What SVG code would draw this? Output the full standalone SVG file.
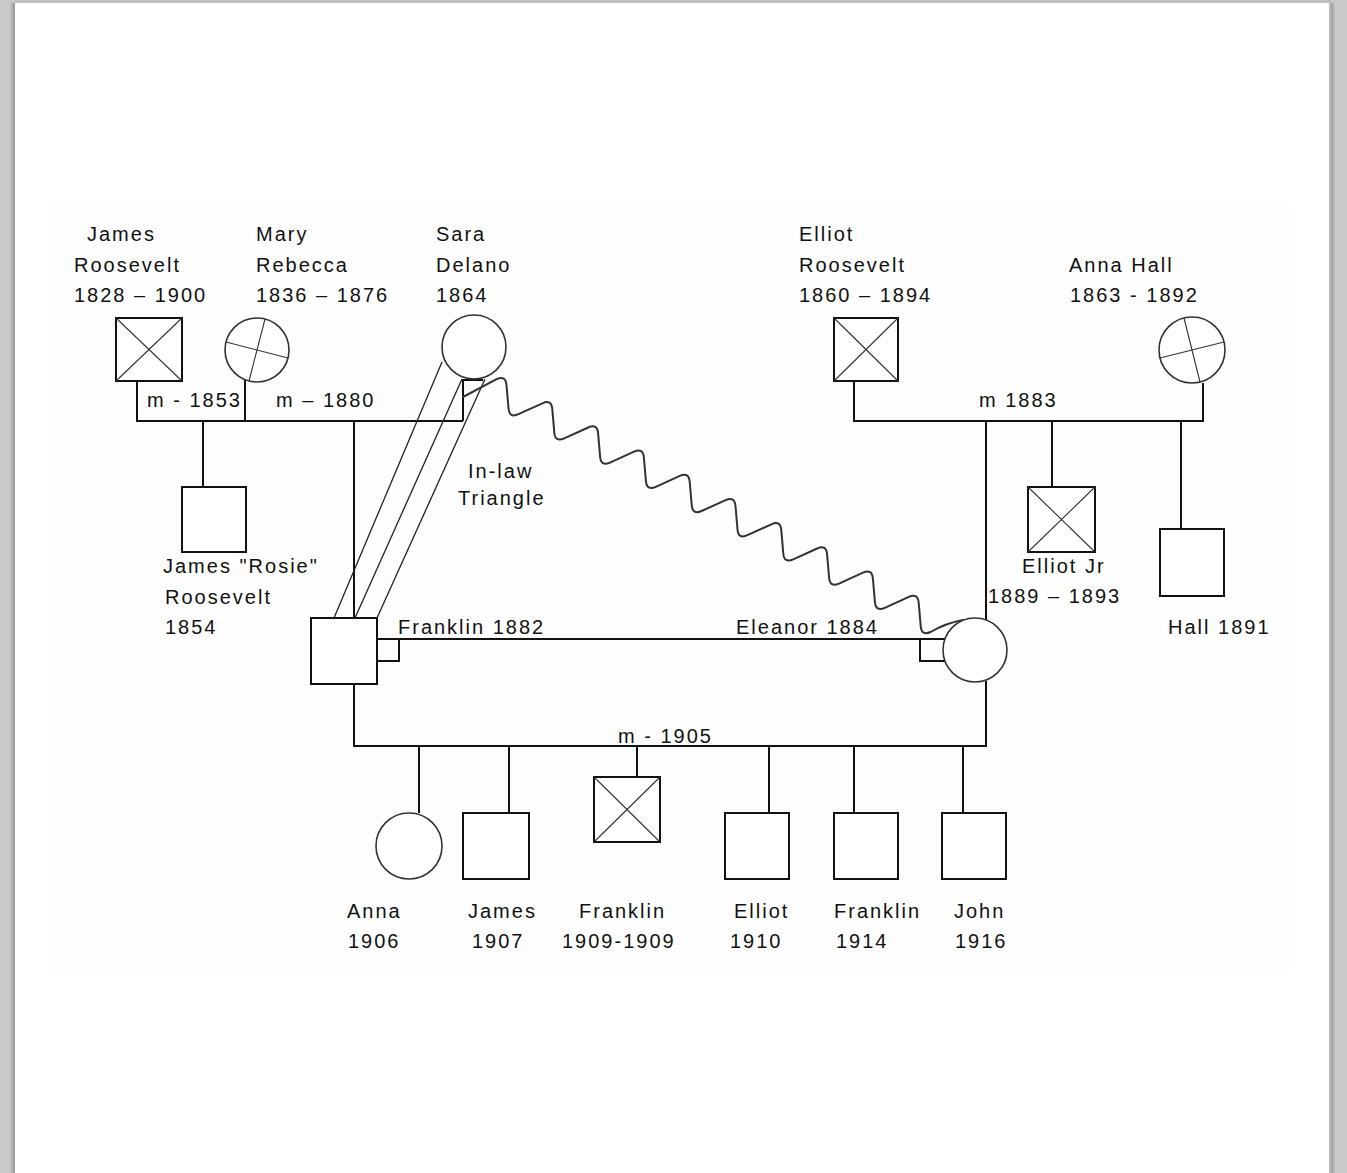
<svg xmlns="http://www.w3.org/2000/svg" width="1347" height="1173" viewBox="0 0 1347 1173">
<style>
  text { font-family: "Liberation Sans", Arial, sans-serif; font-size: 20px; letter-spacing: 2px; fill: #111; }
  .sq { fill: #fff; stroke: #111; stroke-width: 2; }
  .ci { fill: #fff; stroke: #333; stroke-width: 1.6; }
  .x { stroke: #333; stroke-width: 1.1; fill: none; }
  .ln { stroke: #111; stroke-width: 2; fill: none; }
  .thin { stroke: #222; stroke-width: 1.3; fill: none; }
  .wave { stroke: #333; stroke-width: 2; fill: none; stroke-linejoin: round; stroke-linecap: round; }
</style>
<defs>
  <linearGradient id="shadowL" x1="0" x2="1" y1="0" y2="0">
    <stop offset="0" stop-color="#c4c5c4"/>
    <stop offset="1" stop-color="#959695"/>
  </linearGradient>
  <linearGradient id="shadowR" x1="0" x2="1" y1="0" y2="0">
    <stop offset="0" stop-color="#999a99"/>
    <stop offset="1" stop-color="#c4c5c4"/>
  </linearGradient>
</defs>
<!-- page frame -->
<rect x="0" y="0" width="1347" height="1173" fill="#c9cac9"/>
<rect x="10" y="3" width="5" height="1170" fill="url(#shadowL)"/>
<rect x="15" y="0" width="1316" height="3" fill="#bdbebd"/>
<rect x="15" y="3" width="1314" height="1170" fill="#ffffff"/>
<rect x="1329" y="3" width="2" height="1170" fill="#b9bab9"/>
<rect x="1331" y="3" width="4" height="1170" fill="url(#shadowR)"/>
<rect x="50" y="205" width="1240" height="765" fill="#fdfdfd"/>

<g id="connectors">
  <!-- James / Mary / Sara marriage line -->
  <polyline class="ln" points="137,381 137,421 463,421"/>
  <line class="ln" x1="245" y1="380" x2="245" y2="421"/>
  <polyline class="ln" points="483,380 463,380 463,421"/>
  <line class="ln" x1="203" y1="421" x2="203" y2="487"/>
  <line class="ln" x1="354" y1="421" x2="354" y2="618"/>
  <!-- Elliot / Anna Hall -->
  <polyline class="ln" points="854,381 854,421 1203,421 1203,383"/>
  <line class="ln" x1="986" y1="421" x2="986" y2="620"/>
  <line class="ln" x1="1052" y1="421" x2="1052" y2="487"/>
  <line class="ln" x1="1181" y1="421" x2="1181" y2="529"/>
  <!-- Franklin / Eleanor marriage -->
  <line class="ln" x1="377" y1="639" x2="945" y2="639"/>
  <polyline class="ln" points="399,639 399,661 377,661"/>
  <polyline class="ln" points="920,639 920,661 945,661"/>
  <!-- children -->
  <polyline class="ln" points="354,684 354,746 986,746 986,681"/>
  <line class="ln" x1="419" y1="746" x2="419" y2="813"/>
  <line class="ln" x1="509" y1="746" x2="509" y2="813"/>
  <line class="ln" x1="637" y1="746" x2="637" y2="777"/>
  <line class="ln" x1="769" y1="746" x2="769" y2="813"/>
  <line class="ln" x1="854" y1="746" x2="854" y2="813"/>
  <line class="ln" x1="963" y1="746" x2="963" y2="813"/>
  <!-- in-law triangle -->
  <line class="thin" x1="442" y1="362" x2="334" y2="618"/>
  <line class="thin" x1="462" y1="379" x2="355" y2="618"/>
  <line class="thin" x1="485" y1="379" x2="377" y2="618"/>
  <path class="wave" d="M463,397 L496.6,379.1 Q505.7,375 506.5,385 L508.5,408.3 Q509.3,418.3 518.4,414.2 L542.4,403.3 Q551.5,399.2 552.3,409.2 L554.3,432.5 Q555.1,442.5 564.2,438.4 L588.2,427.5 Q597.3,423.4 598.1,433.4 L600.1,456.7 Q600.9,466.7 610,462.6 L634,451.7 Q643.1,447.6 643.9,457.6 L645.9,480.9 Q646.7,490.9 655.8,486.8 L679.8,475.9 Q688.9,471.8 689.7,481.8 L691.7,505.1 Q692.5,515.1 701.6,511 L725.6,500.1 Q734.7,496 735.5,506 L737.5,529.3 Q738.3,539.3 747.4,535.2 L771.4,524.3 Q780.5,520.2 781.3,530.2 L783.3,553.5 Q784.1,563.5 793.2,559.4 L817.2,548.5 Q826.3,544.4 827.1,554.4 L829.1,577.7 Q829.9,587.7 839,583.6 L863,572.7 Q872.1,568.6 872.9,578.6 L874.9,601.9 Q875.7,611.9 884.8,607.8 L908.8,596.9 Q917.9,592.8 918.7,602.8 L920.7,626.1 Q921.5,636.1 930.6,632 Q946,623 963,620"/>
</g>

<g id="james-roosevelt">
  <rect class="sq" x="116" y="318" width="66" height="63"/>
  <path class="x" d="M116,318 L182,381 M182,318 L116,381"/>
  <text x="87" y="241">James</text>
  <text x="74" y="272">Roosevelt</text>
  <text x="74" y="302">1828 – 1900</text>
</g>
<g id="mary-rebecca">
  <circle class="ci" cx="257" cy="350" r="32"/>
  <path class="x" d="M226,342 L288,358 M265,319 L249,381"/>
  <text x="256" y="241">Mary</text>
  <text x="256" y="272">Rebecca</text>
  <text x="256" y="302">1836 – 1876</text>
</g>
<g id="sara-delano">
  <circle class="ci" cx="474" cy="347" r="32"/>
  <text x="436" y="241">Sara</text>
  <text x="436" y="272">Delano</text>
  <text x="436" y="302">1864</text>
</g>
<g id="label-m1853"><text x="147" y="407">m - 1853</text></g>
<g id="label-m1880"><text x="276" y="407">m – 1880</text></g>
<g id="james-rosie">
  <rect class="sq" x="182" y="487" width="64" height="65"/>
  <text x="163" y="573">James "Rosie"</text>
  <text x="165" y="604">Roosevelt</text>
  <text x="165" y="634">1854</text>
</g>
<g id="franklin">
  <rect class="sq" x="311" y="618" width="66" height="66"/>
  <text x="398" y="634">Franklin 1882</text>
</g>
<g id="inlaw-label">
  <text x="468" y="478">In-law</text>
  <text x="458" y="505">Triangle</text>
</g>
<g id="elliot-roosevelt">
  <rect class="sq" x="834" y="318" width="64" height="63"/>
  <path class="x" d="M834,318 L898,381 M898,318 L834,381"/>
  <text x="799" y="241">Elliot</text>
  <text x="799" y="272">Roosevelt</text>
  <text x="799" y="302">1860 – 1894</text>
</g>
<g id="anna-hall">
  <circle class="ci" cx="1192" cy="350" r="33"/>
  <path class="x" d="M1160,358 L1224,342 M1184,318 L1200,382"/>
  <text x="1069" y="272">Anna Hall</text>
  <text x="1070" y="302">1863 - 1892</text>
</g>
<g id="label-m1883"><text x="979" y="407">m 1883</text></g>
<g id="elliot-jr">
  <rect class="sq" x="1028" y="487" width="67" height="65"/>
  <path class="x" d="M1028,487 L1095,552 M1095,487 L1028,552"/>
  <text x="1022" y="573">Elliot Jr</text>
  <text x="988" y="603">1889 – 1893</text>
</g>
<g id="hall">
  <rect class="sq" x="1160" y="529" width="64" height="67"/>
  <text x="1168" y="634">Hall 1891</text>
</g>
<g id="eleanor">
  <circle class="ci" cx="975" cy="650" r="32"/>
  <text x="736" y="634">Eleanor 1884</text>
</g>
<g id="label-m1905"><text x="618" y="743">m - 1905</text></g>
<g id="anna">
  <circle class="ci" cx="409" cy="846" r="33"/>
  <text x="347" y="918">Anna</text>
  <text x="348" y="948">1906</text>
</g>
<g id="james">
  <rect class="sq" x="463" y="813" width="66" height="66"/>
  <text x="468" y="918">James</text>
  <text x="472" y="948">1907</text>
</g>
<g id="franklin-1909">
  <rect class="sq" x="594" y="777" width="66" height="65"/>
  <path class="x" d="M594,777 L660,842 M660,777 L594,842"/>
  <text x="579" y="918">Franklin</text>
  <text x="562" y="948">1909-1909</text>
</g>
<g id="elliot">
  <rect class="sq" x="725" y="813" width="64" height="66"/>
  <text x="734" y="918">Elliot</text>
  <text x="730" y="948">1910</text>
</g>
<g id="franklin-1914">
  <rect class="sq" x="834" y="813" width="64" height="66"/>
  <text x="834" y="918">Franklin</text>
  <text x="836" y="948">1914</text>
</g>
<g id="john">
  <rect class="sq" x="942" y="813" width="64" height="66"/>
  <text x="954" y="918">John</text>
  <text x="955" y="948">1916</text>
</g>
</svg>
